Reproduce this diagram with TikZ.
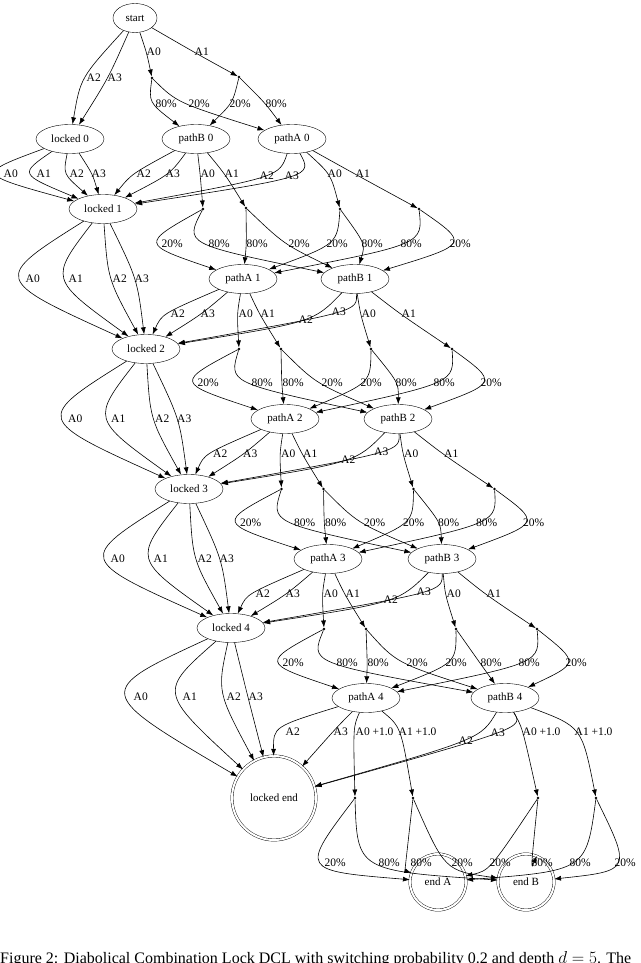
\documentclass[tikz,border=0pt]{standalone}
\usepackage{fontspec}
\setmainfont{Liberation Serif}
\usetikzlibrary{shapes.geometric,arrows.meta,calc}
\begin{document}
\begin{tikzpicture}[x=1pt,y=-1pt,
  st/.style={draw,ellipse,minimum width=68pt,minimum height=29pt,inner sep=1pt,font=\fontsize{11}{12}\selectfont},
  fin/.style={draw,circle,double,double distance=2pt,inner sep=0pt,font=\fontsize{11}{12}\selectfont},
  dot/.style={circle,fill,inner sep=0pt,minimum size=2.6pt},
  edge/.style={line width=0.6pt,-{Latex[length=7pt,width=5pt]}},
  lab/.style={anchor=west,inner sep=0.5pt,font=\fontsize{11.5}{12}\selectfont}]
\newcommand\E[4]{%
  \path ($(#1)!0.5!(#2)$) coordinate (m);
  \draw[edge] (#1) .. controls ($(m)!1.333!(#3)$) .. (#2);
  \node[lab] at (#3) {#4};}
\useasboundingbox (0,0) rectangle (640,963);
% nodes
\node[st,minimum width=44pt] (start) at (135,18) {start};
\node[st] (L0) at (70,139) {locked 0};
\node[st] (pB0) at (196,139) {pathB 0};
\node[st] (pA0) at (292,139) {pathA 0};
\node[st] (L1) at (103,209) {locked 1};
\node[st] (pA1) at (243,279) {pathA 1};
\node[st] (pB1) at (355,279) {pathB 1};
\node[st] (L2) at (146,349) {locked 2};
\node[st] (pA2) at (285,419) {pathA 2};
\node[st] (pB2) at (398,419) {pathB 2};
\node[st] (L3) at (189,489) {locked 3};
\node[st] (pA3) at (328,559) {pathA 3};
\node[st] (pB3) at (442,559) {pathB 3};
\node[st] (L4) at (231,628) {locked 4};
\node[st] (pA4) at (366,698) {pathA 4};
\node[st] (pB4) at (505,698) {pathB 4};
\node[fin,minimum size=84pt] (Le) at (274,798) {locked end};
\node[fin,minimum size=56pt] (eA) at (438,882) {end A};
\node[fin,minimum size=56pt] (eB) at (526,882) {end B};
% layer 0
\node[dot] (dS0) at (152,78) {};
\node[dot] (dS1) at (239,77) {};
\E{start}{L0}{86,78}{A2}
\E{start}{L0}{107,78}{A3}
\E{start}{dS0}{146,52}{A0}
\E{start}{dS1}{194,52}{A1}
\E{dS0}{pB0}{155,104}{80\%}
\E{dS0}{pA0}{188,104}{20\%}
\E{dS1}{pB0}{229,104}{20\%}
\E{dS1}{pA0}{265,104}{80\%}
% layer 0 -> 1
\node[dot] (d0a) at (203,209) {};
\node[dot] (d0b) at (246,208) {};
\node[dot] (d0c) at (340,209) {};
\node[dot] (d0d) at (419,209) {};
\E{L0}{L1}{3,174}{A0}
\E{L0}{L1}{36,174}{A1}
\E{L0}{L1}{69,174}{A2}
\E{L0}{L1}{91,174}{A3}
\E{pB0}{L1}{136,174}{A2}
\E{pB0}{L1}{165,174}{A3}
\E{pB0}{d0a}{200,174}{A0}
\E{pB0}{d0b}{224,174}{A1}
\E{pA0}{L1}{259,176}{A2}
\E{pA0}{L1}{284,176}{A3}
\E{pA0}{d0c}{327,174}{A0}
\E{pA0}{d0d}{355,174}{A1}
\E{d0a}{pA1}{161,244}{20\%}
\E{d0a}{pB1}{208,244}{80\%}
\E{d0b}{pA1}{246,244}{80\%}
\E{d0b}{pB1}{288,244}{20\%}
\E{d0c}{pA1}{326,244}{20\%}
\E{d0c}{pB1}{361,244}{80\%}
\E{d0d}{pA1}{400,244}{80\%}
\E{d0d}{pB1}{449,244}{20\%}
% layers 1..3
\foreach \k in {1,2,3}{
  \pgfmathtruncatemacro\kk{\k+1}
  \pgfmathsetmacro\dx{(\k-1)*42.5}
  \pgfmathsetmacro\dy{(\k-1)*140}
  \node[dot] (da\k) at (239+\dx,349+\dy) {};
  \node[dot] (db\k) at (281+\dx,349+\dy) {};
  \node[dot] (dc\k) at (371+\dx,349+\dy) {};
  \node[dot] (dd\k) at (452+\dx,349+\dy) {};
  \E{L\k}{L\kk}{25+\dx,279+\dy}{A0}
  \E{L\k}{L\kk}{68+\dx,279+\dy}{A1}
  \E{L\k}{L\kk}{112+\dx,279+\dy}{A2}
  \E{L\k}{L\kk}{134+\dx,279+\dy}{A3}
  \E{pA\k}{L\kk}{170+\dx,314+\dy}{A2}
  \E{pA\k}{L\kk}{200+\dx,314+\dy}{A3}
  \E{pA\k}{da\k}{238+\dx,314+\dy}{A0}
  \E{pA\k}{db\k}{260+\dx,314+\dy}{A1}
  \E{pB\k}{L\kk}{298+\dx,320+\dy}{A2}
  \E{pB\k}{L\kk}{331+\dx,312+\dy}{A3}
  \E{pB\k}{dc\k}{361+\dx,314+\dy}{A0}
  \E{pB\k}{dd\k}{401+\dx,314+\dy}{A1}
  \E{da\k}{pA\kk}{197+\dx,383+\dy}{20\%}
  \E{da\k}{pB\kk}{251+\dx,383+\dy}{80\%}
  \E{db\k}{pA\kk}{282+\dx,383+\dy}{80\%}
  \E{db\k}{pB\kk}{321+\dx,383+\dy}{20\%}
  \E{dc\k}{pA\kk}{360+\dx,383+\dy}{20\%}
  \E{dc\k}{pB\kk}{395+\dx,383+\dy}{80\%}
  \E{dd\k}{pA\kk}{433+\dx,383+\dy}{80\%}
  \E{dd\k}{pB\kk}{480+\dx,383+\dy}{20\%}
}
% final layer
\node[dot] (f1) at (355,798) {};
\node[dot] (f2) at (413,798) {};
\node[dot] (f3) at (538,798) {};
\node[dot] (f4) at (596,798) {};
\E{L4}{Le}{133,697}{A0}
\E{L4}{Le}{182,697}{A1}
\E{L4}{Le}{226,697}{A2}
\E{L4}{Le}{248,697}{A3}
\E{pA4}{Le}{285,732}{A2}
\E{pA4}{Le}{333,732}{A3}
\E{pA4}{f1}{355,732}{A0 +1.0}
\E{pA4}{f2}{398,732}{A1 +1.0}
\E{pB4}{Le}{458,741}{A2}
\E{pB4}{Le}{490,733}{A3}
\E{pB4}{f3}{522,732}{A0 +1.0}
\E{pB4}{f4}{574,732}{A1 +1.0}
\E{f1}{eA}{324,863}{20\%}
\E{f1}{eB}{378,863}{80\%}
\E{f2}{eA}{410,863}{80\%}
\E{f2}{eB}{451,863}{20\%}
\E{f3}{eA}{489,863}{20\%}
\E{f3}{eB}{531,863}{80\%}
\E{f4}{eA}{569,863}{80\%}
\E{f4}{eB}{614,863}{20\%}
% caption (cut off by page edge, as in the reference)
\node[anchor=north west,inner sep=0pt,font=\fontsize{16}{17}\selectfont] (cap) at (0,951) {Figure 2: Diabolical Combination Lock DCL with switching probability 0.2 and depth $d=5$. The};
\end{tikzpicture}
\end{document}
